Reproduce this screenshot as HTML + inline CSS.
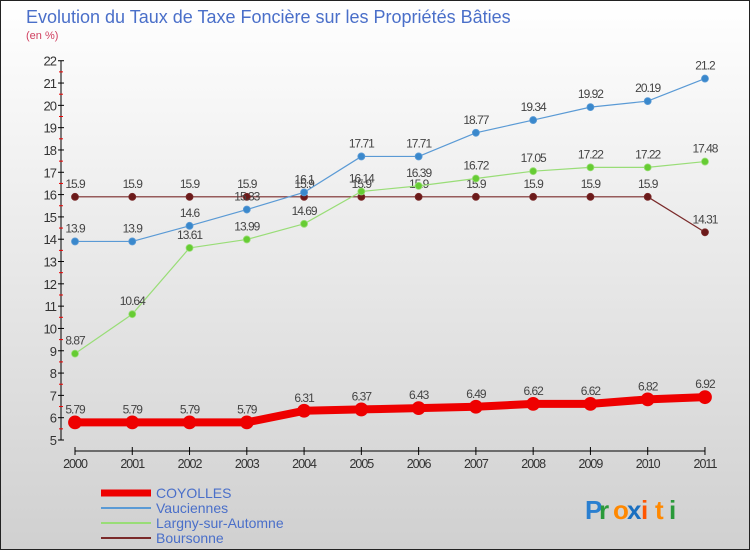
<!DOCTYPE html>
<html><head><meta charset="utf-8"><style>
body{margin:0}
#c{width:748px;height:548px;border:1px solid #222;background:linear-gradient(#fff,#d0d0d0);position:relative;font-family:"Liberation Sans",sans-serif;overflow:hidden}
</style></head><body>
<div id="c">
<svg id="s" width="748" height="548" style="position:absolute;left:0;top:0"></svg>
</div>
<script>
const years=[2000,2001,2002,2003,2004,2005,2006,2007,2008,2009,2010,2011];
const coyolles=[5.79,5.79,5.79,5.79,6.31,6.37,6.43,6.49,6.62,6.62,6.82,6.92];
const vauciennes=[13.9,13.9,14.6,15.33,16.1,17.71,17.71,18.77,19.34,19.92,20.19,21.2];
const largny=[8.87,10.64,13.61,13.99,14.69,16.14,16.39,16.72,17.05,17.22,17.22,17.48];
const boursonne=[15.9,15.9,15.9,15.9,15.9,15.9,15.9,15.9,15.9,15.9,15.9,14.31];
const yTicks=[5,6,7,8,9,10,11,12,13,14,15,16,17,18,19,20,21,22];
const NS="http://www.w3.org/2000/svg";
const s=document.getElementById('s');
const X=i=>74+i*57.27, Y=v=>439-(v-5)*22.31;
function el(t,a,p){const e=document.createElementNS(NS,t);for(const k in a)e.setAttribute(k,a[k]);(p||s).appendChild(e);return e;}
function tx(x,y,str,a){const e=el('text',Object.assign({x:x,y:y,'font-size':12,fill:'#444'},a||{}));e.textContent=str;return e;}
let t=tx(25,22,'Evolution du Taux de Taxe Foncière sur les Propriétés Bâties',{'font-size':18,fill:'#4a6fc9'});

t=tx(25,38,'(en %)',{'font-size':11,fill:'#d04060'});

let ax=el('line',{x1:60,y1:Y(22),x2:60,y2:Y(5),stroke:'#000'});

yTicks.forEach(v=>{el('line',{x1:57,x2:63,y1:Y(v),y2:Y(v),stroke:'#000'});
 if(v<22)el('line',{x1:58,x2:62,y1:Y(v+0.5),y2:Y(v+0.5),stroke:'#e00'});
 const l=tx(55,Y(v)+5,String(v),{'text-anchor':'end','font-size':13,fill:'#333','letter-spacing':'-1'});
 });
ax=el('line',{x1:X(0),x2:X(11),y1:450,y2:450,stroke:'#000'});

years.forEach((y,i)=>{el('line',{x1:X(i),x2:X(i),y1:446,y2:454,stroke:'#000'});
 const l=tx(X(i),467,String(y),{'text-anchor':'middle','font-size':12.5,fill:'#333','letter-spacing':'-1'});
 });
function series(d,col,dot,w,r,name){
 const g=el('g',{});
 el('polyline',{points:d.map((v,i)=>X(i)+','+Y(v)).join(' '),fill:'none',stroke:col,'stroke-width':w,'stroke-linejoin':'round'},g);
 d.forEach((v,i)=>{const c=el('circle',{cx:X(i),cy:Y(v),r:r,fill:dot,stroke:col,'stroke-width':0.8},g);
  
  tx(X(i),Y(v)-9,String(v),{'text-anchor':'middle','font-size':12,fill:'#444','letter-spacing':'-1'});});
}
series(boursonne,'#7a2a2a','#6b1a1a',1.2,3.5,'boursonne');
series(largny,'#99dd77','#66cc33',1.2,3.5,'largny');
series(vauciennes,'#5a9ad5','#3a88cc',1.2,3.5,'vauciennes');
series(coyolles,'#ee0000','#ee0000',8,6.5,'coyolles');
const leg=[['COYOLLES','#ee0000',7],['Vauciennes','#5a9ad5',2],['Largny-sur-Automne','#99dd77',2],['Boursonne','#7a2a2a',2]];
leg.forEach((l,i)=>{const g=el('g',{});
 const y=492+i*15;el('line',{x1:100,x2:150,y1:y,y2:y,stroke:l[1],'stroke-width':l[2]},g);
 const e=tx(155,y+5,l[0],{'font-size':14,fill:'#4a6fc9'});g.appendChild(e);});
const lg=el('g',{});
[['P','#2a7fd0'],['r','#2a9a3a'],['o','#ff8800'],['x','#1a6fc0'],['i','#ff5500'],['t','#ff8800'],['i','#2a9a3a']].forEach((c,i)=>{
 const e=tx(584+i*14,518,c[0],{'font-size':26,fill:c[1],'font-weight':'bold'});lg.appendChild(e);});
</script>
</body></html>
